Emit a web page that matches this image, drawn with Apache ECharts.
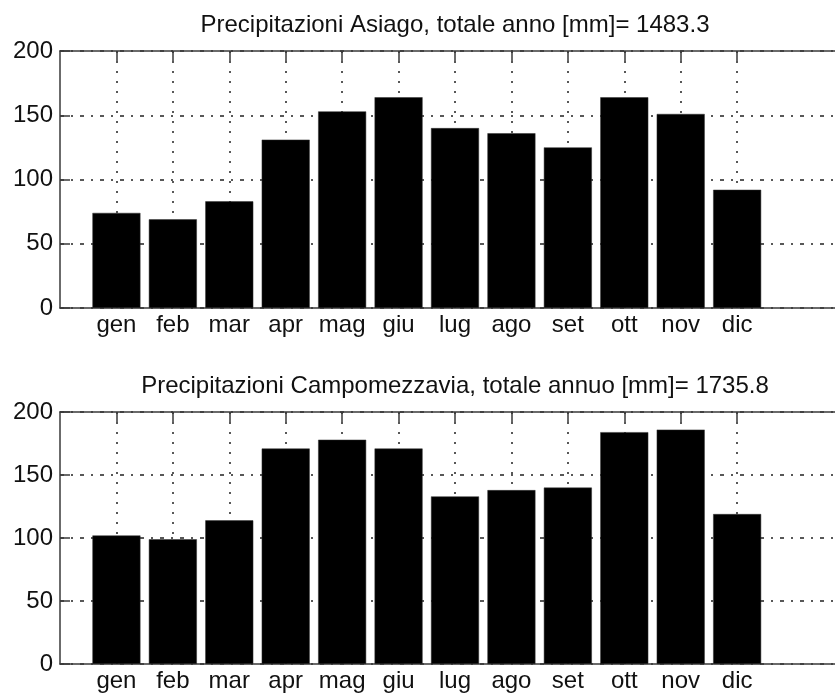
<!DOCTYPE html>
<html>
<head>
<meta charset="utf-8">
<script src="https://cdn.jsdelivr.net/npm/echarts@6/dist/echarts.min.js"></script>
<style>
html,body{margin:0;padding:0;background:#fff;}
#c{width:835px;height:696px;}
</style>
</head>
<body>
<div id="c"></div>
<script>
var months = ['gen','feb','mar','apr','mag','giu','lug','ago','set','ott','nov','dic'];
var asiago = [74, 69, 83, 131, 153, 164, 140, 136, 125, 164, 151, 92];
var campomezzavia = [102, 99, 114, 171, 178, 171, 133, 138, 140, 184, 186, 119];
var titleTop = 'Precipitazioni Asiago, totale anno [mm]= 1483.3';
var titleBottom = 'Precipitazioni Campomezzavia, totale annuo [mm]= 1735.8';
var yTicks = [0, 50, 100, 150, 200];

// x range 0..14, months at 1..12
var axisCats = [''].concat(months).concat(['', '']);
function pad(arr){ return [null].concat(arr).concat([null, null]); }
function isMonth(i){ return i >= 1 && i <= 12; }

var FONT = 'Liberation Sans, Arial, sans-serif';
var FS = 24;
var txt = '#111';
var axisCol = '#3a3a3a';

function xBottom(gi){
  return {
    type: 'category', gridIndex: gi, data: axisCats, boundaryGap: false, position: 'bottom',
    axisLine: {show: true, lineStyle: {color: axisCol, width: 1.5}},
    axisTick: {show: true, inside: true, length: 10, interval: function(i){return isMonth(i);}, lineStyle: {color: axisCol, width: 1.5}},
    axisLabel: {show: true, interval: function(i){return isMonth(i);}, color: txt, fontFamily: FONT, fontSize: FS, margin: 5},
    splitLine: {show: true, interval: function(i){return isMonth(i);}, lineStyle: {color: '#222', width: 1.5, type: [2, 8]}}
  };
}
function xTop(gi){
  return {
    type: 'category', gridIndex: gi, data: axisCats, boundaryGap: false, position: 'top',
    axisLine: {show: true, lineStyle: {color: axisCol, width: 1.5}},
    axisTick: {show: true, inside: true, length: 10, interval: function(i){return isMonth(i);}, lineStyle: {color: axisCol, width: 1.5}},
    axisLabel: {show: false},
    splitLine: {show: false}
  };
}
function yAx(gi){
  return {
    type: 'value', gridIndex: gi, min: yTicks[0], max: yTicks[yTicks.length-1], interval: 50,
    axisLine: {show: true, lineStyle: {color: axisCol, width: 1.5}},
    axisTick: {show: true, inside: true, length: 10, lineStyle: {color: axisCol, width: 1.5}},
    axisLabel: {color: txt, fontFamily: FONT, fontSize: FS, margin: 7},
    splitLine: {show: true, lineStyle: {color: '#222', width: 1.5, type: [4, 7, 2, 7]}}
  };
}

var chart = echarts.init(document.getElementById('c'), null, {renderer: 'canvas'});
chart.setOption({
  backgroundColor: '#fff',
  animation: false,
  title: [
    {text: titleTop, left: 455, top: 13, textAlign: 'center', padding: 0,
     textStyle: {color: txt, fontFamily: FONT, fontSize: FS, fontWeight: 'normal'}},
    {text: titleBottom, left: 455, top: 374, textAlign: 'center', padding: 0,
     textStyle: {color: txt, fontFamily: FONT, fontSize: FS, fontWeight: 'normal'}}
  ],
  grid: [
    {left: 60, top: 51, width: 790, height: 257, outerBoundsMode: 'none', containLabel: false},
    {left: 60, top: 412, width: 790, height: 252, outerBoundsMode: 'none', containLabel: false}
  ],
  xAxis: [xBottom(0), xTop(0), xBottom(1), xTop(1)],
  yAxis: [yAx(0), yAx(1)],
  series: [
    {type: 'bar', xAxisIndex: 0, yAxisIndex: 0, data: pad(asiago), barWidth: 48,
     itemStyle: {color: '#000', borderColor: '#333', borderWidth: 0.5}},
    {type: 'bar', xAxisIndex: 2, yAxisIndex: 1, data: pad(campomezzavia), barWidth: 48,
     itemStyle: {color: '#000', borderColor: '#333', borderWidth: 0.5}}
  ]
});
</script>
</body>
</html>
